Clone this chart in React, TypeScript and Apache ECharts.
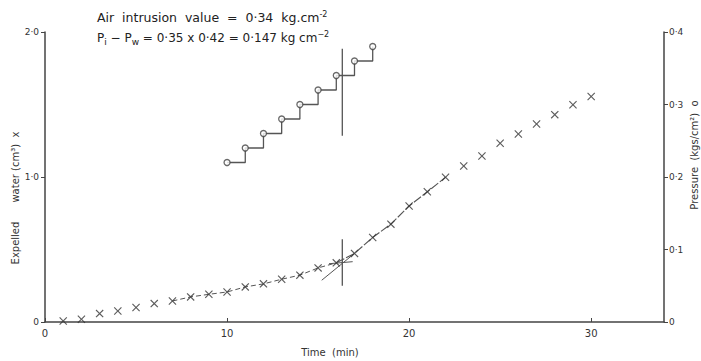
import React, { useEffect, useRef } from "react";
import * as echarts from "echarts";

// ---- data ----
const timeMin = [1, 2, 3, 4, 5, 6, 7, 8, 9, 10, 11, 12, 13, 14, 15, 16, 17, 18, 19, 20, 21, 22, 23, 24, 25, 26, 27, 28, 29, 30];
const expelledWater = [0.007, 0.019, 0.058, 0.076, 0.1, 0.127, 0.145, 0.173, 0.191, 0.207, 0.242, 0.263, 0.295, 0.323, 0.373, 0.408, 0.473, 0.583, 0.675, 0.8, 0.898, 0.998, 1.076, 1.145, 1.233, 1.297, 1.366, 1.43, 1.498, 1.555];
const curveStart = 7;
const curveBreak = 16;
const curveEnd = 22;
const pressureTimes = [10, 11, 12, 13, 14, 15, 16, 17, 18];
const pressureValues = [0.22, 0.24, 0.26, 0.28, 0.3, 0.32, 0.34, 0.36, 0.38];
const tangentTimes = [15.2, 17];
const tangentWater = [0.288, 0.473];
const lowerExtTimes = [15.6, 16.9];
const lowerExtWater = [0.402, 0.416];
const breakTime = 16.33;
const breakWaterRange = [0.25, 0.57];
const breakPressureRange = [0.257, 0.377];
const xTicks = { min: 0, max: 34, interval: 10 };
const waterTicks = { min: 0, max: 2, interval: 1 };
const pressureTicks = { min: 0, max: 0.4, interval: 0.1 };

const FONT = "DejaVu Sans";
const INK = "#333";
const LINE = "#555";

const fmt = (v: number) => (v === 0 ? "0" : v.toFixed(1).replace(".", "·"));
const CROSS = "path://M1,0L5,4L9,0L10,1L6,5L10,9L9,10L5,6L1,10L0,9L4,5L0,1Z";

export default function App() {
  const ref = useRef<HTMLDivElement>(null);
  useEffect(() => {
    document.body.style.margin = "0";
    if (!ref.current) return;
    const chart = echarts.init(ref.current, undefined, { renderer: "svg" });
    const crosses = timeMin.map((t, i) => [t, expelledWater[i]]);
    const curveA = crosses.filter((p) => p[0] >= curveStart && p[0] <= curveBreak);
    const curveB = crosses.filter((p) => p[0] >= curveBreak && p[0] <= curveEnd);
    const steps = pressureTimes.map((t, i) => [t, pressureValues[i]]);
    const tangent = tangentTimes.map((t, i) => [t, tangentWater[i]]);
    const lowerExt = lowerExtTimes.map((t, i) => [t, lowerExtWater[i]]);
    const vLow = breakWaterRange.map((v) => [breakTime, v]);
    const vUp = breakPressureRange.map((v) => [breakTime, v]);

    const axisLine = { show: true, lineStyle: { color: "#444", width: 1.5 } };
    const plainLine = (data: number[][], yAxisIndex = 0, extra: any = {}) => ({
      type: "line",
      data,
      yAxisIndex,
      symbol: "none",
      silent: true,
      lineStyle: { color: LINE, width: 1.2, ...extra },
      z: 2,
    });

    chart.setOption({
      animation: false,
      backgroundColor: "#fff",
      grid: { left: 45, right: 37, top: 32, bottom: 39 },
      xAxis: {
        type: "value",
        ...xTicks,
        axisLine,
        axisTick: { show: true, inside: true, length: 4, lineStyle: { color: "#444" } },
        splitLine: { show: false },
        axisLabel: { color: INK, fontFamily: FONT, fontSize: 10, margin: 6, showMaxLabel: false },
      },
      yAxis: [
        {
          type: "value",
          ...waterTicks,
          axisLine,
          axisTick: { show: true, length: 4, lineStyle: { color: "#444" } },
          splitLine: { show: false },
          axisLabel: { color: INK, fontFamily: FONT, fontSize: 9, margin: 6, formatter: fmt },
        },
        {
          type: "value",
          position: "right",
          ...pressureTicks,
          axisLine,
          axisTick: { show: true, length: 4, lineStyle: { color: "#444" } },
          splitLine: { show: false },
          axisLabel: { color: INK, fontFamily: FONT, fontSize: 9, margin: 5, formatter: fmt },
        },
      ],
      series: [
        plainLine(curveA, 0, { type: [5, 3], width: 1 }),
        plainLine(curveB, 0, { type: [9, 2], width: 1.1 }),
        plainLine(tangent, 0, { width: 1 }),
        plainLine(lowerExt, 0, { width: 1 }),
        plainLine(vLow, 0, { width: 1.3 }),
        plainLine(vUp, 1, { width: 1.3 }),
        {
          type: "scatter",
          data: crosses,
          yAxisIndex: 0,
          symbol: CROSS,
          symbolSize: 8,
          itemStyle: { color: "#333" },
          z: 3,
        },
        {
          type: "line",
          data: steps,
          yAxisIndex: 1,
          step: "end",
          symbol: "none",
          lineStyle: { color: LINE, width: 1.3 },
          z: 3,
        },
        {
          type: "scatter",
          data: steps,
          yAxisIndex: 1,
          symbol: "circle",
          symbolSize: 6,
          itemStyle: { color: "#fff", borderColor: "#444", borderWidth: 1.3 },
          z: 4,
        },
      ],
      graphic: [
        {
          type: "text",
          x: 97,
          y: 17,
          style: {
            text: "Air  intrusion  value  =  0·34  kg.cm{sup|-2}",
            fontFamily: FONT,
            fontSize: 12.5,
            fill: "#222",
            verticalAlign: "middle",
            rich: { sup: { fontSize: 8, verticalAlign: "top", fontFamily: FONT, fill: "#222" } },
          },
        },
        {
          type: "text",
          x: 97,
          y: 38,
          style: {
            text: "P{sub|i} − P{sub|w} = 0·35 x 0·42 = 0·147 kg cm{sup|−2}",
            fontFamily: FONT,
            fontSize: 12,
            fill: "#222",
            verticalAlign: "middle",
            lineHeight: 16,
            rich: {
              sub: { fontSize: 9, verticalAlign: "bottom", fontFamily: FONT, fill: "#222", lineHeight: 16 },
              sup: { fontSize: 8, verticalAlign: "top", fontFamily: FONT, fill: "#222", lineHeight: 16 },
            },
          },
        },
        {
          type: "text",
          x: 330,
          y: 352,
          style: {
            text: "Time  (min)",
            fontFamily: FONT,
            fontSize: 10,
            fill: INK,
            align: "center",
            verticalAlign: "middle",
          },
        },
        {
          type: "text",
          x: 15,
          y: 198,
          rotation: Math.PI / 2,
          style: {
            text: "Expelled      water (cm³)  x",
            fontFamily: FONT,
            fontSize: 10,
            fill: INK,
            align: "center",
            verticalAlign: "middle",
          },
        },
        {
          type: "text",
          x: 694,
          y: 155,
          rotation: Math.PI / 2,
          style: {
            text: "Pressure  (kgs/cm²)  o",
            fontFamily: FONT,
            fontSize: 10,
            fill: INK,
            align: "center",
            verticalAlign: "middle",
          },
        },
      ],
    });
    return () => chart.dispose();
  }, []);
  return <div ref={ref} style={{ width: 701, height: 361 }} />;
}
